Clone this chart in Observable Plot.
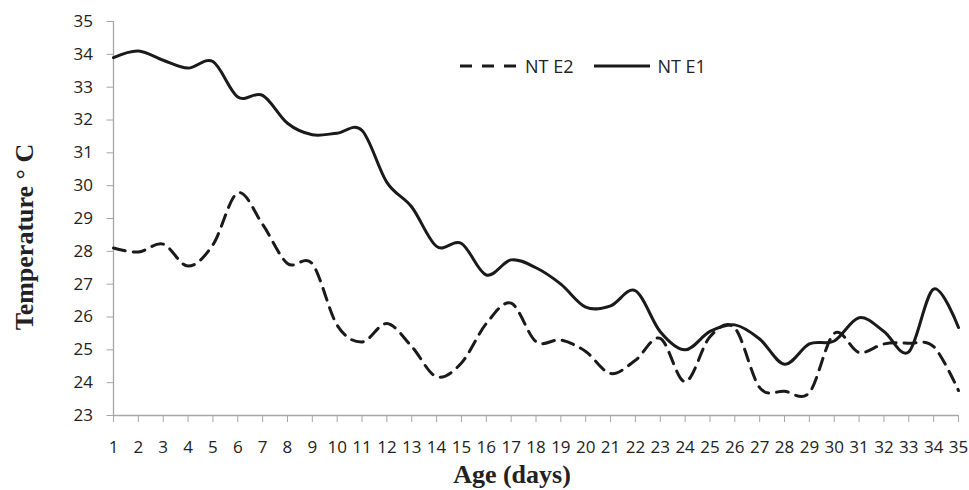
<!DOCTYPE html>
<html>
<head>
<meta charset="utf-8">
<script src="https://cdn.jsdelivr.net/npm/d3@7"></script>
<script src="https://cdn.jsdelivr.net/npm/@observablehq/plot@0.6"></script>
<style>
  html, body { margin: 0; padding: 0; background: #fff; }
  #wrap { position: relative; width: 969px; height: 490px; overflow: hidden; }
  .ylabel { position: absolute; left: 25px; top: 237px; transform: translate(-50%, -50%) rotate(-90deg);
    font-family: "Liberation Serif", "Times New Roman", serif; font-weight: bold; font-size: 26px; color: #222; white-space: nowrap; }
  .xlabel { position: absolute; left: 512px; top: 475px; transform: translate(-50%, -50%);
    font-family: "Liberation Serif", "Times New Roman", serif; font-weight: bold; font-size: 26px; color: #222; white-space: nowrap; }
  .legend { position: absolute; left: 459px; top: 54px; display: flex; align-items: center;
    font-family: "Open Sans", sans-serif; font-size: 18px; color: #222; white-space: nowrap; }
  .legend svg { display: block; }
</style>
</head>
<body>
<div id="wrap"></div>
<script>
const days = [1,2,3,4,5,6,7,8,9,10,11,12,13,14,15,16,17,18,19,20,21,22,23,24,25,26,27,28,29,30,31,32,33,34,35];
const ntE1 = [33.9,34.1,33.82,33.58,33.78,32.7,32.75,31.9,31.55,31.6,31.68,30.1,29.35,28.15,28.24,27.28,27.74,27.5,27.0,26.3,26.34,26.8,25.55,25.0,25.56,25.76,25.33,24.56,25.18,25.27,25.98,25.56,24.94,26.85,25.68];
const ntE2 = [28.1,27.98,28.22,27.55,28.2,29.78,28.82,27.63,27.62,25.75,25.24,25.8,25.1,24.18,24.6,25.8,26.42,25.25,25.3,24.95,24.28,24.68,25.35,24.03,25.4,25.66,23.85,23.74,23.7,25.5,24.92,25.18,25.2,25.1,23.76];
const yTicks = [23,24,25,26,27,28,29,30,31,32,33,34,35];
const seriesNames = ["NT E2", "NT E1"];
const yTitle = "Temperature ° C";
const xTitle = "Age (days)";

const rows = [];
days.forEach((d, i) => {
  rows.push({day: d, temp: ntE2[i], series: seriesNames[0]});
  rows.push({day: d, temp: ntE1[i], series: seriesNames[1]});
});

const curve = d3.curveCatmullRom.alpha(0);
const axisColor = "#a6a6a6";

const chart = Plot.plot({
  width: 969,
  height: 490,
  marginLeft: 113,
  marginRight: 11,
  marginTop: 21,
  marginBottom: 75,
  style: {fontFamily: "Open Sans, sans-serif", fontSize: "17px", color: "#222", background: "#fff", overflow: "visible"},
  x: {domain: [1, 35]},
  y: {domain: [23, 35]},
  marks: [
    Plot.axisY({ticks: yTicks, tickSize: 6.5, tickPadding: 14, stroke: axisColor, fill: "#222", fontSize: 17, label: null, tickFormat: d => d}),
    Plot.axisX({ticks: days, tickSize: 7, tickPadding: 18, stroke: axisColor, fill: "#222", fontSize: 17, label: null, tickFormat: d => d}),
    Plot.ruleX([days[0]], {stroke: axisColor, strokeWidth: 1.3}),
    Plot.ruleY([yTicks[0]], {stroke: axisColor, strokeWidth: 1.3}),
    Plot.line(rows.filter(r => r.series === seriesNames[0]), {x: "day", y: "temp", stroke: "#1a1a1a", strokeWidth: 3, strokeDasharray: "12,8", curve}),
    Plot.line(rows.filter(r => r.series === seriesNames[1]), {x: "day", y: "temp", stroke: "#1a1a1a", strokeWidth: 3, curve})
  ]
});

const wrap = document.getElementById("wrap");
wrap.appendChild(chart);

const yl = document.createElement("div");
yl.className = "ylabel"; yl.textContent = yTitle; wrap.appendChild(yl);
const xl = document.createElement("div");
xl.className = "xlabel"; xl.textContent = xTitle; wrap.appendChild(xl);

const lg = document.createElement("div");
lg.className = "legend";
lg.innerHTML =
  `<svg width="60" height="24"><line x1="1" x2="59" y1="12" y2="12" stroke="#1a1a1a" stroke-width="3" stroke-dasharray="12,10"/></svg>` +
  `<span style="margin-left:6px">${seriesNames[0]}</span>` +
  `<svg width="58" height="24" style="margin-left:20px"><line x1="1" x2="57" y1="12" y2="12" stroke="#1a1a1a" stroke-width="3"/></svg>` +
  `<span style="margin-left:6px">${seriesNames[1]}</span>`;
wrap.appendChild(lg);
</script>
</body>
</html>
